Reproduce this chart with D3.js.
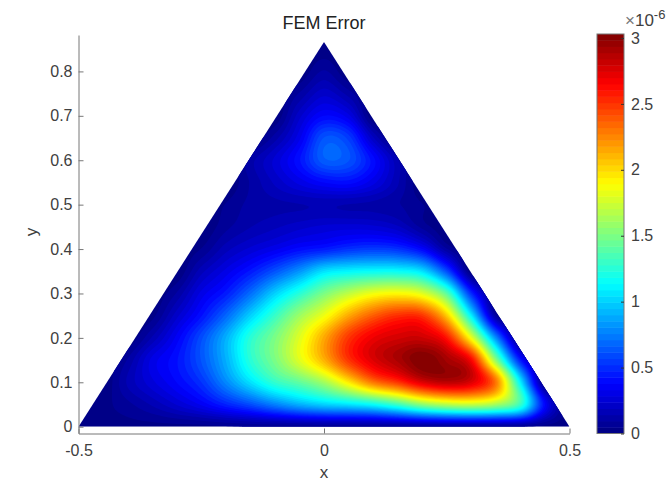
<!DOCTYPE html>
<html>
<head>
<meta charset="utf-8">
<script src="https://cdn.jsdelivr.net/npm/d3@7"></script>
<style>
  html, body { margin: 0; background: #fff; }
  text { font-family: "Liberation Sans", Arial, sans-serif; fill: #404040; }
</style>
</head>
<body>
<div id="chart"></div>
<script>
// Error, in units of 1e-6, on a 0.05 grid (0 outside the triangle)
const xNodes = d3.range(21).map(i => -0.5 + i * 0.05);
const yNodes = d3.range(18).map(i => i * 0.05);
const errorRows = [
  // x: -.50 -.45 -.40 -.35 -.30 -.25 -.20 -.15 -.10 -.05  0   .05  .10  .15  .20  .25  .30  .35  .40  .45  .50
  [0.03,0.03,0.03,0.03,0.03,0.03,0.04,0.05,0.05,0.05,0.05,0.05,0.05,0.05,0.05,0.05,0.05,0.05,0.05,0.03,0.02],
  [0,0.03,0.08,0.15,0.24,0.34,0.47,0.60,0.76,0.90,1.00,1.06,1.15,1.32,1.55,1.68,1.72,1.62,1.30,0.38,0],
  [0,0,0.15,0.27,0.38,0.52,0.78,1.05,1.28,1.42,1.62,1.95,2.30,2.50,2.75,2.85,2.75,2.30,1.10,0,0],
  [0,0,0.10,0.30,0.42,0.62,0.90,1.25,1.50,1.80,2.12,2.50,2.75,2.90,3.03,2.92,2.65,1.55,0.45,0,0],
  [0,0,0,0.15,0.35,0.60,0.90,1.25,1.50,1.80,2.15,2.50,2.70,2.78,2.80,2.60,1.85,0.80,0,0,0],
  [0,0,0,0.03,0.22,0.42,0.68,1.00,1.30,1.60,1.85,2.15,2.38,2.52,2.50,2.05,1.10,0.10,0,0,0],
  [0,0,0,0,0.10,0.30,0.45,0.70,1.00,1.25,1.50,1.70,1.85,1.90,1.80,1.40,0.50,0,0,0,0],
  [0,0,0,0,0,0.17,0.30,0.44,0.62,0.82,1.05,1.12,1.15,1.15,1.05,0.60,0,0,0,0,0],
  [0,0,0,0,0,0.05,0.17,0.25,0.32,0.40,0.45,0.52,0.55,0.52,0.38,0.10,0,0,0,0,0],
  [0,0,0,0,0,0,0.08,0.14,0.18,0.22,0.25,0.26,0.25,0.20,0.08,0,0,0,0,0,0],
  [0,0,0,0,0,0,0.05,0.11,0.13,0.14,0.15,0.14,0.13,0.10,0.05,0,0,0,0,0,0],
  [0,0,0,0,0,0,0,0.10,0.20,0.30,0.38,0.40,0.30,0.15,0,0,0,0,0,0,0],
  [0,0,0,0,0,0,0,0.12,0.25,0.42,0.65,0.62,0.40,0.15,0,0,0,0,0,0,0],
  [0,0,0,0,0,0,0,0,0.12,0.32,0.62,0.55,0.20,0,0,0,0,0,0,0,0],
  [0,0,0,0,0,0,0,0,0,0.22,0.38,0.30,0,0,0,0,0,0,0,0,0],
  [0,0,0,0,0,0,0,0,0,0.10,0.22,0.12,0,0,0,0,0,0,0,0,0],
  [0,0,0,0,0,0,0,0,0,0,0.10,0,0,0,0,0,0,0,0,0,0],
  [0,0,0,0,0,0,0,0,0,0,0.02,0,0,0,0,0,0,0,0,0,0]
];
const triangle = [[-0.5, 0], [0, 0.866], [0.5, 0]];
const xTicks = [-0.5, 0, 0.5];
const yTicks = [0, 0.1, 0.2, 0.3, 0.4, 0.5, 0.6, 0.7, 0.8];
const colorTicks = [0, 0.5, 1, 1.5, 2, 2.5, 3];
const errorMax = 3.03;
const levels = 64;

const width = 667;
const height = 481;

const svg = d3.select("#chart").append("svg")
  .attr("width", width)
  .attr("height", height)
  .style("display", "block");

const x = d3.scaleLinear().domain([-0.5, 0.5]).range([78.5, 569.5]);
const y = d3.scaleLinear().domain([-0.0153, 0.882]).range([433.5, 35]);
const c = d3.scaleLinear().domain([0, errorMax]).range([433.5, 34]);

// MATLAB jet, one colour per level
function jet(t) {
  const ramp = v => Math.max(0, Math.min(1, v));
  const r = ramp(Math.min(4 * t - 1.5, -4 * t + 4.5));
  const g = ramp(Math.min(4 * t - 0.5, -4 * t + 3.5));
  const b = ramp(Math.min(4 * t + 0.5, -4 * t + 2.5));
  return d3.rgb(r * 255, g * 255, b * 255).formatHex();
}
const levelColor = i => jet((i + 0.5) / levels);

// Shading step: resample the grid finely, like interpolated patch shading
const fine = 12;
function catmull(p0, p1, p2, p3, t) {
  return 0.5 * (2 * p1 + (p2 - p0) * t + (2 * p0 - 5 * p1 + 4 * p2 - p3) * t * t + (3 * p1 - p0 - 3 * p2 + p3) * t * t * t);
}
const nCols = xNodes.length, nRows = yNodes.length;
const at = (r, k) => errorRows[Math.max(0, Math.min(nRows - 1, r))][Math.max(0, Math.min(nCols - 1, k))];
const fineCols = (nCols - 1) * fine + 1, fineRows = (nRows - 1) * fine + 1;
const fineValues = new Array(fineCols * fineRows);
for (let j = 0; j < fineRows; j++) {
  const r = Math.min(nRows - 2, Math.floor(j / fine)), tr = j / fine - r;
  for (let i = 0; i < fineCols; i++) {
    const k = Math.min(nCols - 2, Math.floor(i / fine)), tk = i / fine - k;
    const col = [-1, 0, 1, 2].map(d => catmull(at(r + d, k - 1), at(r + d, k), at(r + d, k + 1), at(r + d, k + 2), tk));
    fineValues[j * fineCols + i] = Math.max(0, catmull(col[0], col[1], col[2], col[3], tr));
  }
}

const thresholds = d3.range(1, levels).map(i => i / levels * errorMax);
const bands = d3.contours().size([fineCols, fineRows]).thresholds(thresholds)(fineValues);

// contour coordinates are in fine grid units, take them to data space then pixels
const gridPath = d3.geoPath(d3.geoTransform({
  point: function(px, py) {
    this.stream.point(x(xNodes[0] + (px - 0.5) / fine * 0.05), y((py - 0.5) / fine * 0.05));
  }
}));

svg.append("clipPath").attr("id", "tri").append("path")
  .attr("d", d3.line().x(d => x(d[0])).y(d => y(d[1]))(triangle) + "Z");

const field = svg.append("g").attr("clip-path", "url(#tri)");
field.append("rect")
  .attr("x", x(-0.5)).attr("y", y(0.866))
  .attr("width", x(0.5) - x(-0.5)).attr("height", y(0) - y(0.866))
  .attr("fill", levelColor(0));
field.selectAll("path")
  .data(bands)
  .enter()
  .append("path")
  .attr("d", gridPath)
  .attr("fill", (d, i) => levelColor(i + 1));

// Axes
const axisColor = "#777";
const xAxis = svg.append("g")
  .attr("transform", `translate(0,${y.range()[0]})`)
  .call(d3.axisBottom(x).tickValues(xTicks).tickFormat(String).tickSizeInner(-5).tickSizeOuter(0).tickPadding(11));
const yAxis = svg.append("g")
  .attr("transform", `translate(${x.range()[0]},0)`)
  .call(d3.axisLeft(y).tickValues(yTicks).tickFormat(String).tickSizeInner(-5).tickSizeOuter(0).tickPadding(6));

// Colorbar
const bar = svg.append("g");
bar.selectAll("rect")
  .data(d3.range(levels))
  .enter()
  .append("rect")
  .attr("x", 597)
  .attr("width", 27)
  .attr("y", i => c((i + 1) / levels * errorMax))
  .attr("height", i => c(i / levels * errorMax) - c((i + 1) / levels * errorMax) + 0.5)
  .attr("fill", i => levelColor(i));
bar.append("rect")
  .attr("x", 597).attr("y", 34).attr("width", 27).attr("height", 399.5)
  .attr("fill", "none").attr("stroke", axisColor);
const cAxis = svg.append("g")
  .attr("transform", "translate(624,0)")
  .call(d3.axisRight(c).tickValues(colorTicks).tickFormat(String).tickSizeInner(-3).tickSizeOuter(0).tickPadding(7));
cAxis.select(".domain").remove();
cAxis.selectAll("line").attr("stroke", "#333");

[xAxis, yAxis].forEach(a => {
  a.selectAll(".domain, line").attr("stroke", axisColor);
});
[xAxis, yAxis, cAxis].forEach(a => {
  a.selectAll("text").style("font-size", "16px").attr("fill", "#404040");
});

// Titles and labels
svg.append("text").attr("x", 324).attr("y", 29)
  .attr("text-anchor", "middle").style("font-size", "18px").style("fill", "#222").text("FEM Error");
svg.append("text").attr("x", 324).attr("y", 478)
  .attr("text-anchor", "middle").style("font-size", "17px").text("x");
svg.append("text").attr("transform", "translate(37,232) rotate(-90)")
  .attr("text-anchor", "middle").style("font-size", "17px").text("y");

const exponent = svg.append("text").attr("x", 625).attr("y", 26).style("font-size", "17px");
exponent.append("tspan").style("fill", "#777").text("×");
exponent.append("tspan").text("10");
exponent.append("tspan").attr("dy", -7).style("font-size", "13px").text("-6");
</script>
</body>
</html>
